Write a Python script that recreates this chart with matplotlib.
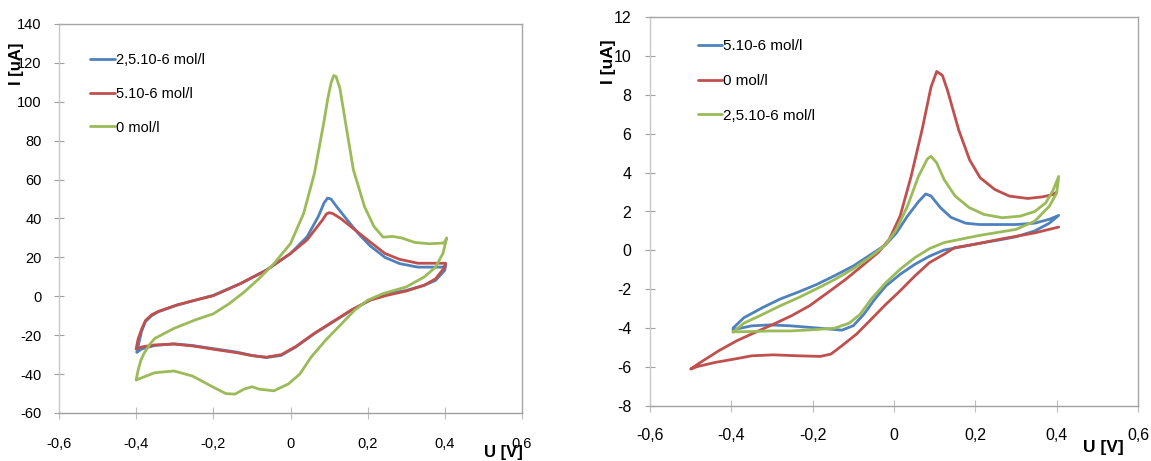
import matplotlib
matplotlib.use("Agg")
import matplotlib.pyplot as plt
import numpy as np

plt.rcParams['font.family'] = ['Liberation Sans Narrow', 'Liberation Sans', 'DejaVu Sans']

BLUE = '#4F81BD'
RED = '#C0504D'
GREEN = '#9BBB59'

# ---------------- Left panel data ----------------
# forward (upper) branch, then reverse (lower) branch
L_blue_up_x = [-0.398, -0.393, -0.386, -0.376, -0.36, -0.343, -0.295, -0.247, -0.2, -0.13, -0.063, 0.0, 0.043, 0.072, 0.087, 0.096, 0.105, 0.12, 0.148, 0.177, 0.206, 0.245, 0.283, 0.33, 0.395, 0.402]
L_blue_up_y = [-28.7, -24, -18, -13, -10, -8, -4.6, -2, 0.5, 6.5, 13.4, 22, 30.6, 41, 48, 50.5, 50, 46, 39, 32, 26, 20, 16.8, 15, 15, 16]
L_blue_lo_x = [0.402, 0.4, 0.376, 0.347, 0.3, 0.25, 0.206, 0.158, 0.11, 0.062, 0.014, -0.024, -0.063, -0.1, -0.139, -0.197, -0.254, -0.302, -0.352, -0.385, -0.398]
L_blue_lo_y = [16, 13.4, 8.2, 5.7, 3, 1.4, -2, -7.2, -13.2, -19.2, -26, -30.4, -31.5, -30.4, -28.7, -27, -25.3, -24.4, -25.3, -27, -28.7]

L_red_up_x = [-0.4, -0.395, -0.386, -0.376, -0.36, -0.343, -0.295, -0.247, -0.2, -0.13, -0.063, 0.0, 0.043, 0.082, 0.093, 0.1, 0.11, 0.13, 0.168, 0.206, 0.245, 0.283, 0.33, 0.4, 0.402]
L_red_up_y = [-27, -22, -17, -12.5, -9.5, -7.8, -4.5, -2, 0.3, 6.5, 13.4, 22, 29, 39, 42.3, 43, 42.5, 40, 34, 28, 22, 19, 17, 17, 17]
L_red_lo_x = [0.402, 0.4, 0.376, 0.347, 0.3, 0.25, 0.206, 0.158, 0.11, 0.062, 0.014, -0.024, -0.063, -0.1, -0.139, -0.197, -0.254, -0.302, -0.352, -0.385, -0.4]
L_red_lo_y = [17, 15, 9, 5.7, 2.7, 0.5, -2, -7, -13, -19, -25.8, -30, -31.3, -30.5, -29, -27.3, -25.5, -24.6, -25, -26, -27]

L_green_up_x = [-0.4, -0.395, -0.388, -0.38, -0.366, -0.352, -0.302, -0.245, -0.2, -0.159, -0.12, -0.082, -0.043, 0.0, 0.034, 0.062, 0.086, 0.097, 0.105, 0.112, 0.118, 0.128, 0.144, 0.163, 0.192, 0.216, 0.24, 0.264, 0.288, 0.322, 0.36, 0.398, 0.405]
L_green_up_y = [-43, -38, -33, -29.5, -25, -21.7, -16.5, -12, -9, -3.8, 2.2, 9, 16.8, 27.1, 42.6, 63.2, 89, 102, 109.6, 113.5, 113, 107, 87.6, 65, 46, 36, 30.4, 30.8, 30, 27.7, 27, 27.4, 30]
L_green_lo_x = [0.405, 0.395, 0.376, 0.347, 0.3, 0.24, 0.2, 0.166, 0.128, 0.09, 0.053, 0.024, -0.005, -0.043, -0.082, -0.1, -0.12, -0.144, -0.168, -0.207, -0.254, -0.302, -0.352, -0.4]
L_green_lo_y = [30, 22, 15, 10, 4.8, 1.4, -2, -7.2, -15, -22.8, -31.4, -40, -45, -48.6, -47.7, -46.5, -47.7, -50.3, -50, -46, -41, -38.4, -39.3, -43]

# ---------------- Right panel data ----------------
R_blue_up_x = [-0.396, -0.369, -0.324, -0.28, -0.235, -0.19, -0.146, -0.1, -0.056, -0.02, 0.006, 0.033, 0.06, 0.078, 0.091, 0.114, 0.14, 0.176, 0.21, 0.257, 0.3, 0.346, 0.382, 0.405]
R_blue_up_y = [-4.0, -3.46, -2.95, -2.5, -2.14, -1.75, -1.3, -0.8, -0.2, 0.3, 0.9, 1.76, 2.5, 2.9, 2.8, 2.2, 1.7, 1.4, 1.33, 1.33, 1.33, 1.4, 1.6, 1.8]
R_blue_lo_x = [0.405, 0.382, 0.346, 0.3, 0.257, 0.21, 0.167, 0.123, 0.087, 0.051, 0.015, -0.02, -0.047, -0.074, -0.1, -0.128, -0.155, -0.2, -0.253, -0.306, -0.35, -0.396]
R_blue_lo_y = [1.8, 1.4, 1.0, 0.7, 0.53, 0.36, 0.19, 0.02, -0.3, -0.72, -1.23, -1.83, -2.5, -3.28, -3.87, -4.1, -4.05, -3.97, -3.88, -3.83, -3.88, -4.08]

R_red_up_x = [0.4, 0.391, 0.364, 0.329, 0.284, 0.248, 0.212, 0.186, 0.159, 0.132, 0.119, 0.105, 0.091, 0.069, 0.042, 0.015, -0.012, -0.038, -0.074, -0.119, -0.163, -0.208, -0.253, -0.297, -0.342, -0.387, -0.431, -0.476, -0.5]
R_red_up_y = [3.0, 2.87, 2.75, 2.67, 2.79, 3.13, 3.73, 4.65, 6.2, 8.2, 9.0, 9.2, 8.4, 6.2, 3.8, 1.76, 0.56, -0.09, -0.72, -1.49, -2.17, -2.85, -3.37, -3.8, -4.22, -4.65, -5.16, -5.76, -6.1]
R_red_lo_x = [-0.5, -0.485, -0.44, -0.396, -0.35, -0.297, -0.235, -0.181, -0.155, -0.128, -0.092, -0.056, -0.02, 0.015, 0.051, 0.087, 0.123, 0.149, 0.194, 0.257, 0.346, 0.405]
R_red_lo_y = [-6.1, -5.98, -5.76, -5.6, -5.42, -5.37, -5.42, -5.45, -5.33, -4.9, -4.3, -3.54, -2.77, -2.08, -1.32, -0.63, -0.2, 0.14, 0.3, 0.56, 0.9, 1.2]

R_green_up_x = [-0.396, -0.369, -0.324, -0.28, -0.235, -0.19, -0.146, -0.1, -0.056, -0.02, 0.006, 0.033, 0.06, 0.082, 0.091, 0.105, 0.123, 0.15, 0.185, 0.221, 0.266, 0.31, 0.346, 0.373, 0.39, 0.405]
R_green_up_y = [-4.2, -3.74, -3.3, -2.85, -2.43, -1.97, -1.5, -0.94, -0.3, 0.3, 1.08, 2.27, 3.8, 4.7, 4.84, 4.5, 3.65, 2.8, 2.2, 1.85, 1.68, 1.76, 2.0, 2.44, 3.04, 3.8]
R_green_lo_x = [0.405, 0.4, 0.382, 0.346, 0.3, 0.21, 0.123, 0.087, 0.051, 0.015, -0.02, -0.056, -0.083, -0.11, -0.146, -0.2, -0.253, -0.306, -0.35, -0.396]
R_green_lo_y = [3.8, 2.95, 2.27, 1.5, 1.08, 0.77, 0.4, 0.09, -0.38, -0.97, -1.66, -2.5, -3.28, -3.74, -4.0, -4.08, -4.14, -4.14, -4.17, -4.19]

x_ticks = [-0.6, -0.4, -0.2, 0, 0.2, 0.4, 0.6]
x_tick_labels = ['-0,6', '-0,4', '-0,2', '0', '0,2', '0,4', '0,6']
L_y_ticks = [-60, -40, -20, 0, 20, 40, 60, 80, 100, 120, 140]
R_y_ticks = [-8, -6, -4, -2, 0, 2, 4, 6, 8, 10, 12]

L_labels = ['2,5.10-6 mol/l', '5.10-6 mol/l', '0 mol/l']
R_labels = ['5.10-6 mol/l', '0 mol/l', '2,5.10-6 mol/l']

fig = plt.figure(figsize=(11.51, 4.61), dpi=100)
W, H = 1151, 461

def make_ax(x0, x1, y0, y1):
    return fig.add_axes([x0 / W, 1 - y1 / H, (x1 - x0) / W, (y1 - y0) / H])

axL = make_ax(59, 522, 24, 413)
axR = make_ax(650, 1138, 17, 406)

def style(ax, yticks, fs, xpad, ypad):
    ax.set_xlim(-0.6, 0.6)
    ax.set_ylim(yticks[0], yticks[-1])
    ax.set_xticks(x_ticks)
    ax.set_xticklabels(x_tick_labels)
    ax.set_yticks(yticks)
    ax.set_yticklabels([str(v) for v in yticks])
    ax.spines['left'].set_color('#C8C8C8')
    ax.spines['bottom'].set_color('#A0A0A0')
    ax.spines['top'].set_color('#A6A6A6')
    ax.spines['right'].set_color('#A6A6A6')
    for s in ax.spines.values():
        s.set_linewidth(1.0)
    ax.tick_params(axis='x', direction='inout', length=8, color='#BEBEBE', labelsize=fs, pad=xpad, labelcolor='#000000')
    ax.tick_params(axis='y', direction='inout', length=7, color='#A0A0A0', labelsize=fs, pad=ypad, labelcolor='#000000')

def loop(ax, upx, upy, lox, loy, color, label):
    ax.plot(list(upx) + list(lox), list(upy) + list(loy), color=color, lw=2.0, label=label,
            solid_joinstyle='round', solid_capstyle='round')

loop(axL, L_blue_up_x, L_blue_up_y, L_blue_lo_x, L_blue_lo_y, BLUE, L_labels[0])
loop(axL, L_red_up_x, L_red_up_y, L_red_lo_x, L_red_lo_y, RED, L_labels[1])
loop(axL, L_green_up_x, L_green_up_y, L_green_lo_x, L_green_lo_y, GREEN, L_labels[2])

loop(axR, R_blue_up_x, R_blue_up_y, R_blue_lo_x, R_blue_lo_y, BLUE, R_labels[0])
loop(axR, R_red_up_x, R_red_up_y, R_red_lo_x, R_red_lo_y, RED, R_labels[1])
loop(axR, R_green_up_x, R_green_up_y, R_green_lo_x, R_green_lo_y, GREEN, R_labels[2])

style(axL, L_y_ticks, 10.5, 13, 9)
style(axR, R_y_ticks, 11.5, 12, 10)

axL.legend(loc='upper left', bbox_to_anchor=(0.055, 0.94), frameon=False, fontsize=10.5,
           handlelength=1.7, handletextpad=0.05, labelspacing=1.35, borderaxespad=0)
axR.legend(loc='upper left', bbox_to_anchor=(0.085, 0.958), frameon=False, fontsize=11,
           handlelength=1.6, handletextpad=0.05, labelspacing=1.35, borderaxespad=0)

fig.text(503 / W, 1 - 452 / H, 'U [V]', ha='center', va='center', fontsize=12, fontweight='bold')
fig.text(1103 / W, 1 - 447 / H, 'U [V]', ha='center', va='center', fontsize=12.5, fontweight='bold')
fig.text(17 / W, 1 - 64 / H, 'I [uA]', ha='center', va='center', rotation=90, fontsize=12, fontweight='bold')
fig.text(609 / W, 1 - 62 / H, 'I [uA]', ha='center', va='center', rotation=90, fontsize=12.5, fontweight='bold')

fig.savefig('out.png', dpi=100)
